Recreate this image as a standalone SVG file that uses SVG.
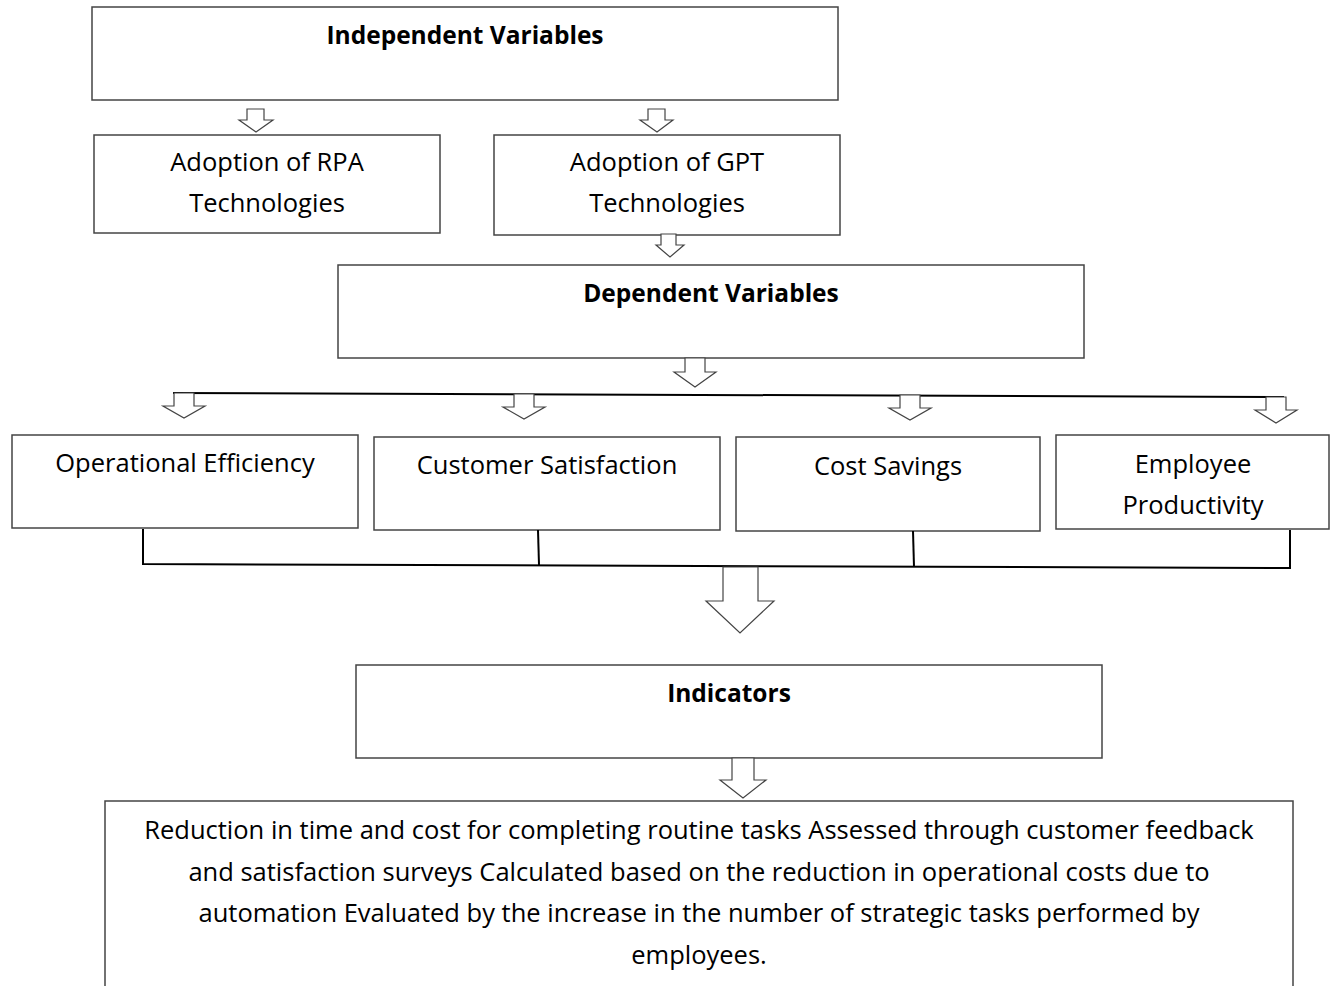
<svg xmlns="http://www.w3.org/2000/svg" width="1330" height="986" viewBox="0 0 1330 986">
<style>
.box{fill:#fff;stroke:#444;stroke-width:1.5}
.arr{fill:#fff;stroke:#444;stroke-width:1.2;stroke-linejoin:miter}
.ln{fill:none;stroke:#000;stroke-width:2}
text{font-family:"Open Sans","Liberation Sans",sans-serif;font-size:25.5px;fill:#000;text-anchor:middle}
.b{font-weight:bold;font-size:24.5px}
</style>
<rect width="1330" height="986" fill="#fff"/>
<g id="independent"><rect class="box" x="92" y="7" width="746" height="93"/><text class="b" x="465" y="44">Independent Variables</text></g>
<g id="rpa"><rect class="box" x="94" y="135" width="346" height="98"/><text x="267" y="171">Adoption of RPA</text><text x="267" y="212">Technologies</text></g>
<g id="gpt"><rect class="box" x="494" y="135" width="346" height="100"/><text x="667" y="171">Adoption of GPT</text><text x="667" y="212">Technologies</text></g>
<g id="dependent"><rect class="box" x="338" y="265" width="746" height="93"/><text class="b" x="711" y="302">Dependent Variables</text></g>
<g id="operational"><rect class="box" x="12" y="435" width="346" height="93"/><text x="185" y="472">Operational Efficiency</text></g>
<g id="customer"><rect class="box" x="374" y="437" width="346" height="93"/><text x="547" y="474">Customer Satisfaction</text></g>
<g id="cost"><rect class="box" x="736" y="437" width="304" height="94"/><text x="888" y="475">Cost Savings</text></g>
<g id="employee"><rect class="box" x="1056" y="435" width="273" height="94"/><text x="1193" y="473">Employee</text><text x="1193" y="514">Productivity</text></g>
<g id="indicators"><rect class="box" x="356" y="665" width="746" height="93"/><text class="b" x="729" y="702">Indicators</text></g>
<g id="details"><rect class="box" x="105" y="801" width="1188" height="200"/>
<text x="699" y="839">Reduction in time and cost for completing routine tasks Assessed through customer feedback</text>
<text x="699" y="881">and satisfaction surveys Calculated based on the reduction in operational costs due to</text>
<text x="699" y="922">automation Evaluated by the increase in the number of strategic tasks performed by</text>
<text x="699" y="964">employees.</text></g>
<g id="connectors">
<path class="arr" d="M247 109H264V120H273L256 132L239 120H247Z"/>
<path class="arr" d="M648 109H665V120H673L657 132L640 120H648Z"/>
<path class="arr" d="M661 234H676V245H684L670 257L656 245H661Z"/>
<path class="arr" d="M685 358H705V372H716L695 387L674 372H685Z"/>
<path class="ln" d="M173 393L1284 397"/>
<path class="arr" d="M174 393H194V406H205L184 418L163 406H174Z"/>
<path class="arr" d="M514 394H534V407H545L524 419L503 407H514Z"/>
<path class="arr" d="M900 395H920V408H931L910 420L889 408H900Z"/>
<path class="arr" d="M1266 397H1286V410H1297L1276 423L1255 410H1266Z"/>
<path class="ln" d="M143 529V564L1290 568V530"/>
<path class="ln" d="M538 530L539 565"/>
<path class="ln" d="M913 531L914 567"/>
<path class="arr" d="M723 567H758V601H774L740 633L706 601H723Z"/>
<path class="arr" d="M732 758H754V780H766L743 798L720 780H732Z"/>
</g>
</svg>
